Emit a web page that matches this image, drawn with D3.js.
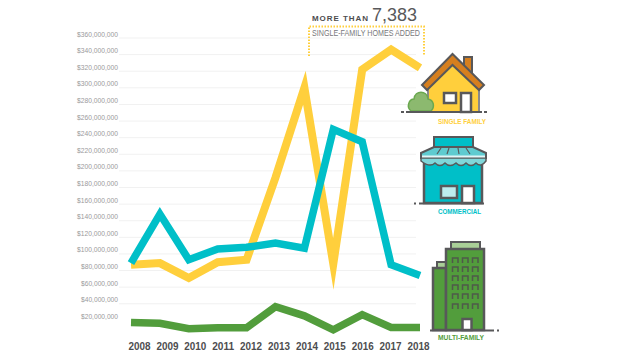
<!DOCTYPE html>
<html><head><meta charset="utf-8">
<script src="https://cdn.jsdelivr.net/npm/d3@7"></script>
<style>html,body{margin:0;padding:0;background:#fff}svg{display:block}text{font-family:"Liberation Sans",sans-serif}</style>
</head><body><svg id="c" width="640" height="360"></svg>
<script>
const years=[2008,2009,2010,2011,2012,2013,2014,2015,2016,2017,2018];
const singleFamily=[87,89,71,90,93,192,300,88,322,346,324];
const commercial=[89,148,93,106,108,113,107,250,235,87,74];
const multiFamily=[17.5,16.5,10,11,11,36.5,25.5,8.7,27,11.5,11.5];
const gridTicks=d3.range(40,361,20);
const labelTicks=d3.range(20,361,20);
const svg=d3.select("#c");
const x=d3.scaleLinear().domain([2008,2018]).range([131,420]);
const y=d3.scaleLinear().domain([0,360]).range([337,38]);
const xLabel=d3.scalePoint().domain(years).range([139,418]);
const fmt=v=>"$"+d3.format(",")(v*1e6);

svg.append("g").selectAll("line").data(gridTicks).join("line")
 .attr("x1",119).attr("x2",416).attr("y1",d=>y(d)).attr("y2",d=>y(d))
 .attr("stroke","#f1f1f1").attr("stroke-width",1);
svg.append("g").selectAll("text").data(labelTicks).join("text")
 .attr("x",77).attr("y",d=>y(d)-1.5)
 .attr("font-size",8).attr("fill","#9a9a9c")
 .attr("textLength",d=>d>=100?41:37).attr("lengthAdjust","spacingAndGlyphs")
 .attr("dx",d=>d>=100?0:4)
 .text(fmt);

const line=d3.line().x((d,i)=>x(years[i])).y(d=>y(d));
const series=[[singleFamily,"#ffcf3c",8],[commercial,"#00bfc8",7.5],[multiFamily,"#529d3c",7.5]];
svg.append("g").selectAll("path").data(series).join("path")
 .attr("d",d=>line(d[0])).attr("fill","none").attr("stroke",d=>d[1]).attr("stroke-width",d=>d[2])
 .attr("stroke-linejoin","miter").attr("stroke-miterlimit",20);

const axis=d3.axisBottom(xLabel).tickSize(0).tickFormat(d3.format("d"));
const ag=svg.append("g").attr("transform","translate(0,339)").call(axis);
ag.select(".domain").remove();
ag.selectAll("text").attr("font-size",11.5).attr("font-weight","bold").attr("fill","#4d4d4f")
 .attr("textLength",22).attr("lengthAdjust","spacingAndGlyphs");

// callout
const ann=svg.append("g");
ann.append("path").attr("d","M309 56V26.500H424V55").attr("fill","none").attr("stroke","#ffcf3c").attr("stroke-width",2).attr("stroke-dasharray","1.5 1.5");
ann.append("text").attr("x",312).attr("y",21).attr("font-size",8).attr("font-weight","bold").attr("fill","#4d4d4f").attr("textLength",56).text("MORE THAN");
ann.append("text").attr("x",372).attr("y",21).attr("font-size",18).attr("fill","#58585a").attr("textLength",45).attr("lengthAdjust","spacingAndGlyphs").text("7,383");
ann.append("text").attr("x",312).attr("y",36).attr("font-size",8.500).attr("fill","#77777a").attr("textLength",108).attr("lengthAdjust","spacingAndGlyphs").text("SINGLE-FAMILY HOMES ADDED");

const dk="#58585a";
function captions(t,xx,yy,c,w){svg.append("text").attr("x",xx).attr("y",yy).attr("font-size",8).attr("font-weight","bold").attr("fill",c).attr("textLength",w).attr("lengthAdjust","spacingAndGlyphs").text(t);}

// house
const h=svg.append("g").attr("stroke",dk).attr("stroke-linejoin","miter");
h.append("path").attr("d","M464 57H472V75H464Z").attr("fill","#d67f1e").attr("stroke-width",2);
h.append("path").attr("d","M428 112V84L453 62L478 84V112Z").attr("fill","#ffcf3c").attr("stroke","none");
h.append("path").attr("d","M428 85V112M479 85V112").attr("stroke","#8a8a8c").attr("stroke-width",2).attr("fill","none");
h.append("path").attr("d","M422 85L452.500 54L484 85L479 90L452.500 65L427 90Z").attr("fill","#d67f1e").attr("stroke-width",2);
h.append("rect").attr("x",444).attr("y",93).attr("width",12).attr("height",10).attr("fill","#fff").attr("stroke-width",2.500);
h.append("rect").attr("x",461).attr("y",93).attr("width",10).attr("height",19).attr("fill","#fff").attr("stroke-width",2.500);
svg.append("path").attr("d","M411 111C406 107 409 99 414 99C415 90 427 90 428 99C434 100 435 107 431 111Z").attr("fill","#8cb96f").attr("stroke","#6aa84f").attr("stroke-width",1.500);
svg.append("path").attr("d","M401 112H404M406 112H482M484 112H487").attr("stroke",dk).attr("stroke-width",2);
captions("SINGLE FAMILY",438,123.500,"#ffcf3c",48);

// store
const s=svg.append("g").attr("stroke",dk);
s.append("rect").attr("x",434).attr("y",137).attr("width",39).attr("height",10).attr("fill","#00bfc8").attr("stroke-width",2);
s.append("rect").attr("x",424).attr("y",160).attr("width",58).attr("height",43).attr("fill","#00bfc8").attr("stroke-width",2.500);
s.append("path").attr("d","M434 147H473L486 153V158H421V153Z").attr("fill","#5fcbd0").attr("stroke-width",2);
s.append("path").attr("d","M441 148L437 154M449 148L447 154M458 148L459 154M466 148L470 154").attr("stroke-width",1.200);
s.append("path").attr("d","M421 158H486V161Q481 168 476 163Q471 168 466 163Q461 168 456 163Q450 168 445 163Q440 168 435 163Q430 168 421 161Z").attr("fill","#7fd7da").attr("stroke-width",1.500);
s.append("path").attr("d","M422 156.500H485").attr("stroke","#e2f6f7").attr("stroke-width",2);
s.append("rect").attr("x",441).attr("y",186).attr("width",16).attr("height",12).attr("fill","#bcecee").attr("stroke-width",2.500);
s.append("rect").attr("x",462).attr("y",186).attr("width",12).attr("height",17).attr("fill","#fff").attr("stroke-width",2.500);
svg.append("path").attr("d","M414 203.500H416M419 203.500H484").attr("stroke",dk).attr("stroke-width",2);
captions("COMMERCIAL",438,214,"#00bfc8",43);

// tower
const t=svg.append("g").attr("stroke",dk);
t.append("rect").attr("x",437).attr("y",262).attr("width",10).attr("height",6).attr("fill","#a9cf97").attr("stroke-width",2);
t.append("rect").attr("x",433).attr("y",268).attr("width",13).attr("height",62).attr("fill","#529d3c").attr("stroke-width",2.500);
t.append("rect").attr("x",451).attr("y",242).attr("width",29).attr("height",7).attr("fill","#a9cf97").attr("stroke-width",2);
t.append("rect").attr("x",446).attr("y",249).attr("width",38).attr("height",81).attr("fill","#529d3c").attr("stroke-width",2.500);
const cols=[452.500,462.500,472.500],rows=[258,267,276,285,294,304];
rows.forEach(r=>cols.forEach(c=>t.append("path").attr("d",`M${c} ${r+5}V${r}H${c+5.500}V${r+5}`).attr("fill","none").attr("stroke-width",1.500).attr("stroke","#4f5a4a")));
t.append("rect").attr("x",462.500).attr("y",319).attr("width",9).attr("height",11).attr("fill","#fff").attr("stroke-width",2.500);
svg.append("path").attr("d","M430 330.500H494M497 330.500H499").attr("stroke",dk).attr("stroke-width",2);
captions("MULTI-FAMILY",438,339.500,"#529d3c",46);
</script></body></html>
